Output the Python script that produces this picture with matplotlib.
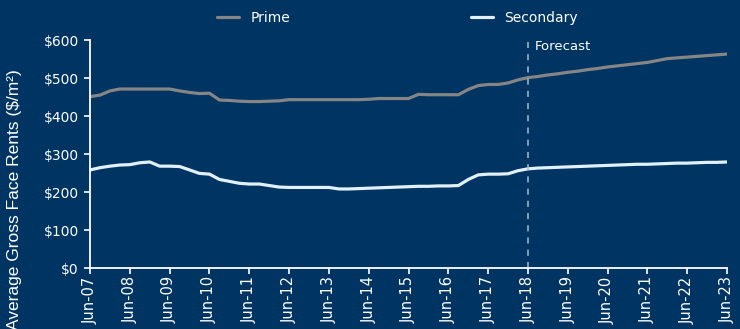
import matplotlib
matplotlib.use("Agg")
import matplotlib.pyplot as plt
import matplotlib.dates as mdates
import pandas as pd

# quarterly, Jun-07 .. Jun-23
quarters = pd.date_range("2007-06-01", "2023-06-01", freq="3MS")

prime = [451, 455, 466, 471, 471, 471, 471, 471, 471, 466, 462, 459, 460,
         442, 441, 439, 438, 438, 439, 440, 443, 443, 443, 443, 443, 443,
         443, 443, 444, 446, 446, 446, 446, 457, 456, 456, 456, 456, 470,
         480, 483, 483, 487, 495, 501, 504, 508, 511, 515, 518, 522, 525,
         529, 532, 535, 538, 541, 546, 551, 553, 555, 557, 559, 561, 563]
secondary = [258, 264, 268, 271, 272, 277, 279, 268, 268, 267, 258, 249, 247,
             233, 228, 223, 221, 221, 217, 213, 212, 212, 212, 212, 212, 208,
             208, 209, 210, 211, 212, 213, 214, 215, 215, 216, 216, 217, 233,
             245, 247, 247, 248, 256, 261, 263, 264, 265, 266, 267, 268, 269,
             270, 271, 272, 273, 273, 274, 275, 276, 276, 277, 278, 278, 279]
yticks = [0, 100, 200, 300, 400, 500, 600]
forecast_start = pd.Timestamp("2018-06-01")

BG = "#003462"
FG = "white"

fig = plt.figure(figsize=(7.4, 3.29), dpi=100, facecolor=BG)
ax = fig.add_axes([90 / 740, 1 - 268 / 329, 637 / 740, 228 / 329], facecolor=BG)

ax.plot(quarters, prime, color="#858585", lw=2.3, label="Prime", solid_capstyle="round")
ax.plot(quarters, secondary, color="#e2f0fa", lw=2.3, label="Secondary", solid_capstyle="round")

ax.axvline(forecast_start, color="#a9bccf", lw=1.1, ls=(0, (4, 4)))
ax.text(forecast_start + pd.Timedelta(days=60), 583, "Forecast", color=FG,
        fontsize=9.5, ha="left", va="center")

ax.set_ylim(0, 600)
ax.set_xlim(quarters[0], quarters[-1])
ax.set_yticks(yticks)
ax.set_yticklabels([f"${v}" for v in yticks])
ax.xaxis.set_major_locator(mdates.MonthLocator(bymonth=6))
ax.xaxis.set_major_formatter(mdates.DateFormatter("%b-%y"))
ax.tick_params(axis="x", rotation=90, colors=FG, labelsize=10.5, length=4, width=1.2, pad=2)
ax.tick_params(axis="y", colors=FG, labelsize=10, length=4, width=1.2, pad=4)
for s in ["top", "right"]:
    ax.spines[s].set_visible(False)
for s in ["left", "bottom"]:
    ax.spines[s].set_color(FG)
    ax.spines[s].set_linewidth(1.3)

fig.text(0.019, 1 - 69 / 329, "Average Gross Face Rents ($/m²)", rotation=90,
         color=FG, fontsize=12.5, family="Liberation Sans", ha="center", va="top")

leg = fig.legend(loc="center", bbox_to_anchor=(0.537, 1 - 18 / 329), ncol=2,
                 frameon=False, fontsize=10, handlelength=1.6, handletextpad=0.8,
                 columnspacing=13)
for t in leg.get_texts():
    t.set_color(FG)

fig.savefig("out.png", dpi=100, facecolor=BG)
